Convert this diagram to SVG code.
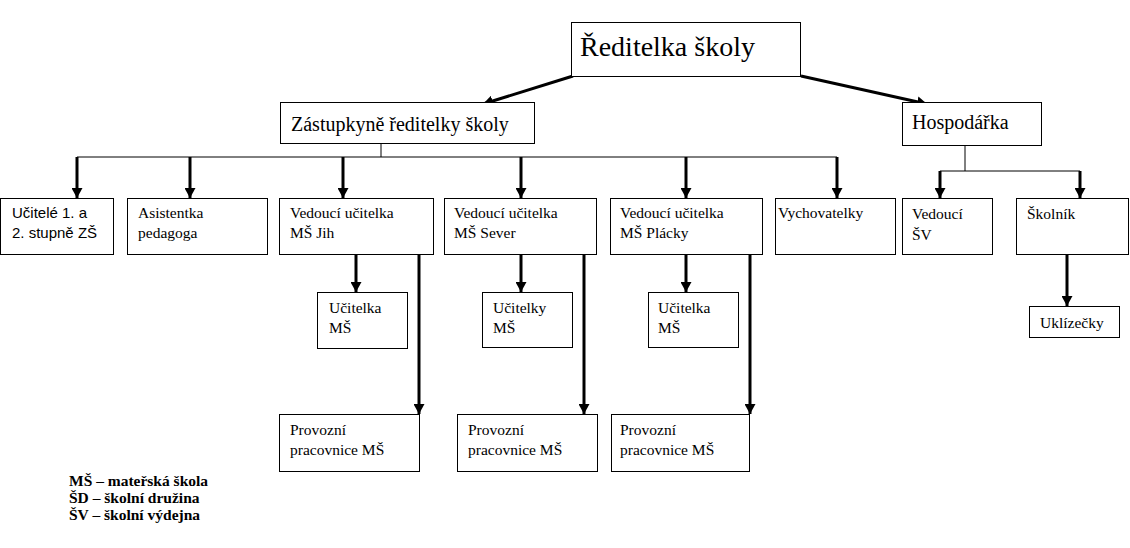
<svg xmlns="http://www.w3.org/2000/svg" width="1130" height="548" viewBox="0 0 1130 548">
<defs>
<marker id="ah" markerUnits="userSpaceOnUse" markerWidth="11" markerHeight="11" refX="10" refY="5.5" orient="auto">
<path d="M0,0 L10,5.5 L0,11 z" fill="#000"/>
</marker>
<style>
.box{fill:#fff;stroke:#000;stroke-width:1}
.t{font-family:"Liberation Serif","Times New Roman","DejaVu Serif",serif;font-size:15.5px;fill:#000}
.s{font-family:"Liberation Sans",Arial,sans-serif;font-size:15px;fill:#000}
.big{font-size:20px}
.huge{font-size:28px}
.leg{font-family:"Liberation Serif","Times New Roman","DejaVu Serif",serif;font-size:15.5px;font-weight:bold;fill:#000}
.thin{stroke:#000;stroke-width:1;fill:none}
.arr{stroke:#000;stroke-width:3;fill:none;marker-end:url(#ah)}
</style>
</defs>
<rect width="1130" height="548" fill="#fff"/>
<g id="connectors">
<line class="arr" x1="573" y1="76" x2="483" y2="104"/>
<line class="arr" x1="801" y1="76" x2="927" y2="104"/>
<line class="thin" x1="381" y1="144" x2="381" y2="157"/>
<line class="thin" x1="77" y1="157" x2="837" y2="157"/>
<line class="arr" x1="77" y1="157" x2="77" y2="198"/>
<line class="arr" x1="190" y1="157" x2="190" y2="198"/>
<line class="arr" x1="343" y1="157" x2="343" y2="198"/>
<line class="arr" x1="521" y1="157" x2="521" y2="198"/>
<line class="arr" x1="686" y1="157" x2="686" y2="198"/>
<line class="arr" x1="837" y1="157" x2="837" y2="198"/>
<line class="thin" x1="965" y1="146" x2="965" y2="171"/>
<line class="thin" x1="940" y1="171" x2="1080" y2="171"/>
<line class="arr" x1="940" y1="171" x2="940" y2="198"/>
<line class="arr" x1="1080" y1="171" x2="1080" y2="198"/>
<line class="arr" x1="1067" y1="254" x2="1067" y2="306"/>
<line class="arr" x1="356" y1="254" x2="356" y2="292"/>
<line class="arr" x1="521" y1="254" x2="521" y2="292"/>
<line class="arr" x1="686" y1="254" x2="686" y2="292"/>
<line class="arr" x1="419" y1="254" x2="419" y2="414"/>
<line class="arr" x1="584" y1="254" x2="584" y2="414"/>
<line class="arr" x1="750" y1="254" x2="750" y2="414"/>
</g>
<g id="reditelka"><rect class="box" x="571.5" y="22.5" width="229" height="54"/><text class="t huge" x="580" y="56">Ředitelka školy</text></g>
<g id="zastupkyne"><rect class="box" x="280.5" y="102.5" width="254" height="41"/><text class="t big" x="291" y="131">Zástupkyně ředitelky školy</text></g>
<g id="hospodarka"><rect class="box" x="902.5" y="102.5" width="139" height="43"/><text class="t big" x="912" y="129">Hospodářka</text></g>
<g id="ucitele"><rect class="box" x="0.5" y="198.5" width="113" height="56"/><text class="s" x="12" y="218">Učitelé 1. a</text><text class="s" x="12" y="238">2. stupně ZŠ</text></g>
<g id="asistentka"><rect class="box" x="127.5" y="198.5" width="140" height="56"/><text class="t" x="138" y="218">Asistentka</text><text class="t" x="138" y="238">pedagoga</text></g>
<g id="vedouci-jih"><rect class="box" x="279.5" y="198.5" width="154" height="56"/><text class="t" x="290" y="218">Vedoucí učitelka</text><text class="t" x="290" y="238">MŠ Jih</text></g>
<g id="vedouci-sever"><rect class="box" x="444.5" y="198.5" width="152" height="56"/><text class="t" x="454" y="218">Vedoucí učitelka</text><text class="t" x="454" y="238">MŠ Sever</text></g>
<g id="vedouci-placky"><rect class="box" x="610.5" y="198.5" width="152" height="56"/><text class="t" x="620" y="218">Vedoucí učitelka</text><text class="t" x="620" y="238">MŠ Plácky</text></g>
<g id="vychovatelky"><rect class="box" x="775.5" y="198.5" width="120" height="56"/><text class="t" x="778" y="218">Vychovatelky</text></g>
<g id="vedouci-sv"><rect class="box" x="902.5" y="198.5" width="90" height="56"/><text class="t" x="912" y="219">Vedoucí</text><text class="t" x="912" y="240">ŠV</text></g>
<g id="skolnik"><rect class="box" x="1016.5" y="198.5" width="112" height="56"/><text class="t" x="1027" y="219">Školník</text></g>
<g id="uklizecky"><rect class="box" x="1029.5" y="306.5" width="90" height="31"/><text class="t" x="1040" y="328">Uklízečky</text></g>
<g id="ucitelka-jih"><rect class="box" x="317.5" y="292.5" width="90" height="56"/><text class="t" x="329" y="313">Učitelka</text><text class="t" x="329" y="333">MŠ</text></g>
<g id="ucitelky-sever"><rect class="box" x="482.5" y="292.5" width="90" height="55"/><text class="t" x="493" y="313">Učitelky</text><text class="t" x="493" y="333">MŠ</text></g>
<g id="ucitelka-placky"><rect class="box" x="648.5" y="292.5" width="90" height="55"/><text class="t" x="658" y="313">Učitelka</text><text class="t" x="658" y="333">MŠ</text></g>
<g id="provozni-jih"><rect class="box" x="279.5" y="414.5" width="140" height="57"/><text class="t" x="290" y="435">Provozní</text><text class="t" x="290" y="455">pracovnice MŠ</text></g>
<g id="provozni-sever"><rect class="box" x="457.5" y="414.5" width="140" height="57"/><text class="t" x="468" y="435">Provozní</text><text class="t" x="468" y="455">pracovnice MŠ</text></g>
<g id="provozni-placky"><rect class="box" x="611.5" y="414.5" width="138" height="57"/><text class="t" x="620" y="435">Provozní</text><text class="t" x="620" y="455">pracovnice MŠ</text></g>
<g id="legenda">
<text class="leg" x="69" y="486">MŠ – mateřská škola</text>
<text class="leg" x="69" y="503">ŠD – školní družina</text>
<text class="leg" x="69" y="520">ŠV – školní výdejna</text>
</g>
</svg>
